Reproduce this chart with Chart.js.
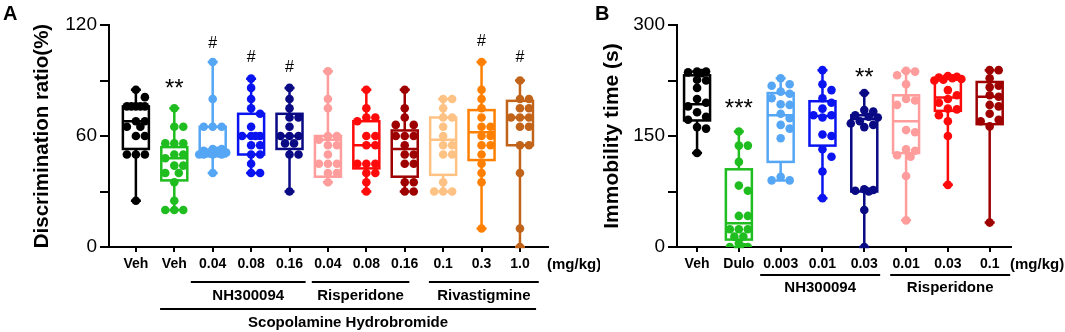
<!DOCTYPE html>
<html lang="en">
<head>
<meta charset="UTF-8">
<title>Discrimination ratio / Immobility time</title>
<script src="https://cdn.jsdelivr.net/npm/chart.js@4.4.1/dist/chart.umd.min.js"></script>
<style>
  html, body { margin: 0; padding: 0; background: #fff; width: 1065px; height: 332px; overflow: hidden; }
  canvas { position: absolute; top: 0; }
</style>
</head>
<body>
<canvas id="chartB" width="475" height="332" style="left:590px"></canvas>
<canvas id="chartA" width="600" height="332" style="left:0"></canvas>
<script>
// ---- Panel A: discrimination ratio (%) ----
const labelsA = ['Veh', 'Veh', '0.04', '0.08', '0.16', '0.04', '0.08', '0.16', '0.1', '0.3', '1.0'];
const colorsA = ['#000000', '#1fbd1f', '#55a6f5', '#0a14f0', '#0a0a85', '#ff9c9c', '#ff0a0a', '#9e0000', '#ffc285', '#ff8000', '#c2631a'];
const pointsA = [
  [85, 81, 76, 76, 76, 76, 76, 68, 68, 65, 65, 60, 60, 50, 50, 50, 25],
  [75, 65, 65, 56, 56, 56, 50, 50, 48, 44, 44, 40, 40, 35, 25, 20, 20, 20],
  [100, 80, 65, 65, 65, 53, 53, 52, 52, 51, 51, 50, 50, 50, 50, 40],
  [91, 86, 80, 75, 72, 65, 60, 60, 60, 60, 55, 55, 50, 50, 45, 40, 40],
  [86, 80, 75, 70, 70, 65, 60, 60, 60, 56, 56, 50, 50, 30],
  [95, 80, 75, 60, 60, 58, 55, 55, 50, 45, 45, 45, 40, 40, 35],
  [85, 75, 70, 70, 68, 60, 60, 55, 55, 45, 45, 45, 40, 40, 35, 30],
  [85, 75, 70, 66, 66, 60, 60, 60, 55, 50, 50, 45, 45, 35, 35, 30, 30],
  [80, 80, 75, 70, 70, 65, 60, 55, 55, 50, 50, 35, 30, 30, 30],
  [100, 85, 80, 75, 70, 65, 65, 60, 60, 55, 55, 50, 45, 40, 35, 10],
  [90, 80, 80, 75, 75, 70, 70, 70, 65, 65, 55, 55, 40, 10, 0]
];
const q1A = [53, 36, 49, 50, 53, 38, 42.5, 38, 39, 47, 55];
const medA = [68, 48, 52, 60, 60, 58, 55, 53, 58, 62, 70];
const q3A = [76, 54, 65, 72, 72, 60, 68, 63, 70, 74, 79];
const marksA = ['', '**', '#', '#', '#', '', '', '', '', '#', '#'];
const markAtA = [0, 89, 111, 103, 98, 0, 0, 0, 0, 112, 103];
const groupNamesA = ['NH300094', 'Risperidone', 'Rivastigmine', 'Scopolamine Hydrobromide'];
const groupFromA = [1.43, 4.58, 7.63, 0.63];
const groupToA = [4.42, 7.12, 10.49, 10.42];
const groupRowA = [0, 0, 0, 1];

// ---- Panel B: immobility time (s) ----
const labelsB = ['Veh', 'Dulo', '0.003', '0.01', '0.03', '0.01', '0.03', '0.1'];
const colorsB = ['#000000', '#1fbd1f', '#55a6f5', '#0a14f0', '#0a0a85', '#ff9c9c', '#ff0a0a', '#9e0000'];
const pointsB = [
  [237, 237, 236, 235, 226, 225, 215, 200, 195, 190, 182, 176, 172, 162, 160, 127],
  [156, 137, 137, 115, 83, 76, 42, 42, 24, 24, 24, 14, 14, 5, 0, 0, 0],
  [228, 220, 218, 210, 207, 201, 193, 192, 180, 174, 165, 160, 147, 95, 90, 90],
  [239, 220, 212, 201, 195, 187, 178, 178, 175, 152, 150, 132, 122, 102, 66],
  [208, 185, 183, 178, 176, 175, 170, 167, 165, 162, 78, 77, 76, 75, 50, 0],
  [238, 237, 232, 220, 200, 198, 192, 158, 155, 132, 130, 124, 122, 96, 36],
  [231, 230, 229, 228, 227, 226, 225, 212, 205, 200, 195, 187, 186, 178, 170, 150, 84],
  [239, 239, 228, 218, 216, 205, 203, 192, 190, 180, 172, 170, 163, 33]
];
const q1B = [171, 10, 115, 137, 75, 127, 184, 166];
const medB = [193, 32, 178, 177, 173, 170, 202, 203];
const q3B = [232, 105, 208, 197, 178, 205, 228, 223];
const marksB = ['', '***', '', '', '**', '', '', ''];
const markAtB = [0, 196, 0, 0, 237, 0, 0, 0];
const groupNamesB = ['NH300094', 'Risperidone'];
const groupFromB = [1.51, 4.62];
const groupToB = [4.38, 7.49];
const groupRowB = [0, 0];

const FONT = "Arial, 'Liberation Sans', Helvetica, sans-serif";
const OFFSETS = [0, 9, -9, 4.5, -4.5, 13.5, -13.5];
const MIN_GAP = 8;

function makePanel(canvasId, p) {
  const deco = {
    id: 'deco',
    beforeDatasetsDraw(chart) {
      const { ctx, scales: { x, y } } = chart;
      ctx.save();
      ctx.lineWidth = 2.5;
      p.points.forEach((vals, i) => {
        const cx = x.getPixelForValue(i);
        const yHi = y.getPixelForValue(Math.max(...vals));
        const yLo = y.getPixelForValue(Math.min(...vals));
        const y1 = y.getPixelForValue(p.q1[i]);
        const y2 = y.getPixelForValue(p.med[i]);
        const y3 = y.getPixelForValue(p.q3[i]);
        ctx.strokeStyle = p.colors[i];
        ctx.beginPath();
        ctx.moveTo(cx, yHi); ctx.lineTo(cx, y3);
        ctx.moveTo(cx, y1); ctx.lineTo(cx, yLo);
        ctx.moveTo(cx - 5, yHi); ctx.lineTo(cx + 5, yHi);
        ctx.moveTo(cx - 5, yLo); ctx.lineTo(cx + 5, yLo);
        ctx.moveTo(cx - 13, y2); ctx.lineTo(cx + 13, y2);
        ctx.stroke();
        ctx.strokeRect(cx - 13, y3, 26, y1 - y3);
      });
      ctx.restore();
    },
    afterDatasetsDraw(chart) {
      const { ctx, scales: { x, y } } = chart;
      ctx.save();
      ctx.fillStyle = '#000';
      ctx.textAlign = 'center';
      ctx.textBaseline = 'alphabetic';
      p.marks.forEach((m, i) => {
        if (!m) return;
        ctx.font = (m[0] === '#' ? '16px ' : '24px ') + FONT;
        // markAt is the glyph centre; '#' sits on the baseline, asterisks float high
        const shift = m[0] === '#' ? 6 : 13.7;
        ctx.fillText(m, x.getPixelForValue(i), y.getPixelForValue(p.markAt[i]) + shift);
      });
      ctx.restore();
    },
    afterDraw(chart) {
      const { ctx, chartArea, scales: { x } } = chart;
      ctx.save();
      ctx.fillStyle = '#000';
      ctx.strokeStyle = '#000';
      ctx.lineWidth = 2;
      ctx.textAlign = 'center';
      ctx.textBaseline = 'middle';
      ctx.font = 'bold 15px ' + FONT;
      p.groupNames.forEach((name, g) => {
        const x0 = x.getPixelForValue(p.groupFrom[g]);
        const x1 = x.getPixelForValue(p.groupTo[g]);
        const row = p.groupRow[g];
        ctx.beginPath();
        ctx.moveTo(x0, p.rowLineY[row]);
        ctx.lineTo(x1, p.rowLineY[row]);
        ctx.stroke();
        ctx.fillText(name, (x0 + x1) / 2, p.rowTextY[row]);
      });
      ctx.textAlign = 'left';
      ctx.fillText('(mg/kg)', chartArea.right - 1, p.tickY);
      ctx.font = 'bold 20px ' + FONT;
      ctx.textBaseline = 'alphabetic';
      ctx.fillText(p.letter, p.letterX, 20);
      ctx.restore();
    }
  };

  const chart = new Chart(document.getElementById(canvasId), {
    type: 'scatter',
    data: {
      datasets: p.points.map((vals, i) => ({
        data: vals.map(v => ({ x: i, y: v })),
        pointRadius: 4.3,
        pointHoverRadius: 4.3,
        pointBorderWidth: 0,
        pointBackgroundColor: p.colors[i],
        pointBorderColor: p.colors[i]
      }))
    },
    options: {
      responsive: false,
      animation: false,
      devicePixelRatio: 1,
      events: [],
      layout: { padding: { top: 25, right: p.padRight, left: 0, bottom: 0 } },
      plugins: { legend: { display: false }, tooltip: { enabled: false } },
      scales: {
        x: {
          type: 'linear',
          min: p.xMin,
          max: p.xMax,
          afterBuildTicks: s => { s.ticks = p.labels.map((_, i) => ({ value: i })); },
          afterFit: s => { s.height = 85; },
          ticks: {
            autoSkip: false, maxRotation: 0, padding: 4, color: '#000',
            font: { family: FONT, size: 14, weight: 'bold' },
            callback: v => p.labels[v]
          },
          grid: { drawOnChartArea: false, tickLength: 5, color: '#000', lineWidth: 2 },
          border: { color: '#000', width: 2 }
        },
        y: {
          min: 0,
          max: p.yMax,
          afterBuildTicks: s => { s.ticks = [0, 1, 2, 3, 4].map(k => ({ value: k * p.yMax / 4 })); },
          afterFit: s => { s.width = p.axisX; },
          ticks: {
            padding: 3, color: '#000',
            font: { family: FONT, size: 19 },
            callback: v => (v % (p.yMax / 2) === 0 ? v : '')
          },
          grid: { drawOnChartArea: false, tickLength: 9, color: '#000', lineWidth: 2 },
          border: { color: '#000', width: 2 },
          title: {
            display: true, text: p.title, color: '#000',
            font: { family: FONT, size: p.titleSize, weight: 'bold' },
            padding: { top: p.titlePad, bottom: 0 }
          }
        }
      }
    },
    plugins: [deco]
  });

  // beeswarm: spread equal-ish values sideways, in pixel space, then back to axis units
  const { x, y } = chart.scales;
  const unit = x.getPixelForValue(1) - x.getPixelForValue(0);
  chart.data.datasets.forEach((ds, i) => {
    const placed = [];
    ds.data.forEach(pt => {
      const py = y.getPixelForValue(pt.y);
      let best = 0, bestGap = -1;
      for (const off of OFFSETS) {
        const gap = Math.min(Infinity, ...placed.map(q => Math.hypot(q.dx - off, q.py - py)));
        if (gap >= MIN_GAP) { best = off; break; }
        if (gap > bestGap) { bestGap = gap; best = off; }
      }
      placed.push({ dx: best, py });
      pt.x = i + best / unit;
    });
  });
  chart.update('none');
  return chart;
}

makePanel('chartA', {
  labels: labelsA, colors: colorsA, points: pointsA, q1: q1A, med: medA, q3: q3A,
  marks: marksA, markAt: markAtA,
  groupNames: groupNamesA, groupFrom: groupFromA, groupTo: groupToA, groupRow: groupRowA,
  rowLineY: [282, 309], rowTextY: [296, 323], tickY: 265,
  xMin: -0.70, xMax: 10.73, yMax: 120, axisX: 109, padRight: 52,
  title: 'Discrimination ratio(%)', titleSize: 20.5, titlePad: 30,
  letter: 'A', letterX: 3
});

makePanel('chartB', {
  labels: labelsB, colors: colorsB, points: pointsB, q1: q1B, med: medB, q3: q3B,
  marks: marksB, markAt: markAtB,
  groupNames: groupNamesB, groupFrom: groupFromB, groupTo: groupToB, groupRow: groupRowB,
  rowLineY: [275], rowTextY: [288], tickY: 265,
  xMin: -0.48, xMax: 7.51, yMax: 300, axisX: 87, padRight: 54,
  title: 'Immobility time (s)', titleSize: 21, titlePad: 10,
  letter: 'B', letterX: 5
});
</script>
</body>
</html>
